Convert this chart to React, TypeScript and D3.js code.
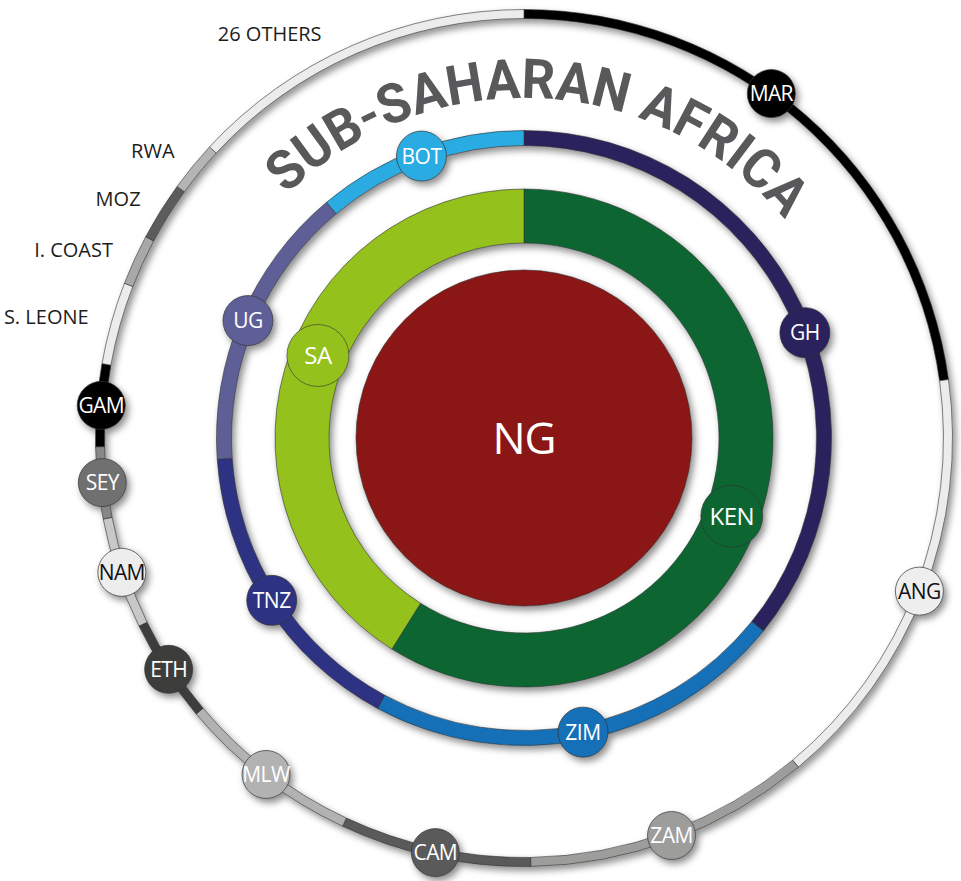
import React from "react";
import * as d3 from "d3";

// ---- data ----
const centerCountry = "NG";

const innerCountries = ["KEN", "SA"];
const innerValues = [58.9, 41.1];

const midCountries = ["GH", "ZIM", "TNZ", "UG", "BOT"];
const midValues = [35.8, 22.1, 16.0, 15.0, 11.1];

const outerCountries = ["MAR", "ANG", "ZAM", "CAM", "MLW", "ETH", "NAM", "SEY", "GAM", "S. LEONE", "I. COAST", "MOZ", "RWA", "26 OTHERS"];
const outerValues = [22.8, 16.1, 10.8, 7.2, 6.9, 3.9, 4.2, 2.7, 3.1, 3.1, 1.9, 2.2, 1.9, 13.1];
const outerHasMarker = [true, true, true, true, true, true, true, true, true, false, false, false, false, false];

const titleText = "SUB-SAHARAN AFRICA";

// ---- styles ----
const innerColors: Record<string, string> = { KEN: "#0a6632", SA: "#95c11f" };
const midColors: Record<string, string> = { GH: "#29235c", ZIM: "#1470b8", TNZ: "#2e3083", UG: "#5f5f98", BOT: "#29abe2" };
const outerColors: Record<string, string> = {
  MAR: "#000000", ANG: "#ececec", ZAM: "#9d9d9c", CAM: "#5a5a5a", MLW: "#b2b2b2", ETH: "#3c3c3b",
  NAM: "#c8c8c8", SEY: "#878787", GAM: "#000000", "S. LEONE": "#ececec", "I. COAST": "#a8a8a8",
  MOZ: "#5c5c5c", RWA: "#b5b5b5", "26 OTHERS": "#ececec",
};
const outerMarkerFill: Record<string, string> = { NAM: "#ededed", SEY: "#6f6f6f", ANG: "#eeeeee" };
const darkText: Record<string, boolean> = { ANG: true, NAM: true };
const labelShift: Record<string, number> = { MAR: -5.4, GH: 5, "26 OTHERS": -3, KEN: 4.6, SA: 5.8 };

const W = 961, H = 881, cx = 524, cy = 438;
const FONT = "'Open Sans', 'Noto Sans', sans-serif";
const deg = Math.PI / 180;

function pos(angle: number, r: number): [number, number] {
  return [cx + r * Math.sin(angle), cy - r * Math.cos(angle)];
}

export default function App() {
  const pie = d3.pie<number>().sort(null).value((d) => d);
  const innerArcs = pie(innerValues);
  const midArcs = pie(midValues);
  const outerArcs = pie(outerValues);

  const innerArc = d3.arc<d3.PieArcDatum<number>>().innerRadius(195).outerRadius(249);
  const midArc = d3.arc<d3.PieArcDatum<number>>().innerRadius(292.5).outerRadius(307.5);
  const outerArc = d3.arc<d3.PieArcDatum<number>>().innerRadius(419.5).outerRadius(428.5);

  const mid = (a: d3.PieArcDatum<number>, name: string) =>
    (a.startAngle + a.endAngle) / 2 + (labelShift[name] || 0) * deg;

  const titleR = 340;
  const titlePath = `M ${cx - titleR} ${cy} A ${titleR} ${titleR} 0 0 1 ${cx + titleR} ${cy}`;

  return (
    <svg width={W} height={H} style={{ position: "absolute", left: 0, top: 0 }} xmlns="http://www.w3.org/2000/svg">
      <defs>
        <filter id="sh" x="-20%" y="-20%" width="140%" height="140%">
          <feDropShadow dx="3" dy="4" stdDeviation="3.5" floodColor="#000" floodOpacity="0.45" />
        </filter>
        <path id="titlePath" d={titlePath} />
      </defs>
      <rect width={W} height={H} fill="#fff" />

      {/* outer ring */}
      <g filter="url(#sh)">
        <g transform={`translate(${cx},${cy})`}>
          {outerArcs.map((a, i) => (
            <path key={i} d={outerArc(a) || ""} fill={outerColors[outerCountries[i]]} stroke="#333" strokeWidth={0.6} />
          ))}
        </g>
        {outerArcs.map((a, i) => {
          const name = outerCountries[i];
          if (!outerHasMarker[i]) return null;
          const [x, y] = pos(mid(a, name), 424);
          return (
            <circle key={name} cx={x} cy={y} r={24} fill={outerMarkerFill[name] || outerColors[name]} stroke="#333" strokeWidth={0.7} />
          );
        })}
      </g>
      {outerArcs.map((a, i) => {
        const name = outerCountries[i];
        if (!outerHasMarker[i]) return null;
        const [x, y] = pos(mid(a, name), 424);
        return (
          <text key={name} x={x} y={y} dy="0.36em" textAnchor="middle" fontFamily={FONT} fontSize={21}
            letterSpacing={-0.6} fill={darkText[name] ? "#111" : "#fff"}>{name}</text>
        );
      })}
      {outerArcs.map((a, i) => {
        const name = outerCountries[i];
        if (outerHasMarker[i]) return null;
        const [x, y] = pos(mid(a, name), 452);
        return (
          <text key={name} x={x} y={y} dy="0.36em" textAnchor="end" fontFamily={FONT} fontSize={20} fill="#1d1d1b">{name}</text>
        );
      })}

      {/* title */}
      <text fontFamily="Roboto, 'DejaVu Sans', sans-serif" fontWeight="bold" fontSize={55} fill="#59595b">
        <textPath href="#titlePath" startOffset="51.6%" textAnchor="middle" textLength={560} lengthAdjust="spacingAndGlyphs">{titleText}</textPath>
      </text>

      {/* middle ring */}
      <g filter="url(#sh)">
        <g transform={`translate(${cx},${cy})`}>
          {midArcs.map((a, i) => (
            <path key={i} d={midArc(a) || ""} fill={midColors[midCountries[i]]} stroke="#333" strokeWidth={0.6} />
          ))}
        </g>
        {midArcs.map((a, i) => {
          const name = midCountries[i];
          const [x, y] = pos(mid(a, name), 300);
          return <circle key={name} cx={x} cy={y} r={25} fill={midColors[name]} stroke="#333" strokeWidth={0.7} />;
        })}
      </g>
      {midArcs.map((a, i) => {
        const name = midCountries[i];
        const [x, y] = pos(mid(a, name), 300);
        return (
          <text key={name} x={x} y={y} dy="0.36em" textAnchor="middle" fontFamily={FONT} fontSize={21} letterSpacing={-0.5} fill="#fff">{name}</text>
        );
      })}

      {/* inner ring */}
      <g filter="url(#sh)">
        <g transform={`translate(${cx},${cy})`}>
          {innerArcs.map((a, i) => (
            <path key={i} d={innerArc(a) || ""} fill={innerColors[innerCountries[i]]} stroke="#333" strokeWidth={0.6} />
          ))}
        </g>
        {innerArcs.map((a, i) => {
          const name = innerCountries[i];
          const [x, y] = pos(mid(a, name), 222);
          return <circle key={name} cx={x} cy={y} r={31} fill={innerColors[name]} stroke="#333" strokeWidth={0.6} />;
        })}
      </g>
      {innerArcs.map((a, i) => {
        const name = innerCountries[i];
        const [x, y] = pos(mid(a, name), 222);
        return (
          <text key={name} x={x} y={y} dy="0.36em" textAnchor="middle" fontFamily={FONT} fontSize={24} letterSpacing={-0.5} fill="#fff">{name}</text>
        );
      })}

      {/* center */}
      <circle cx={cx} cy={cy} r={168} fill="#8a1315" stroke="#333" strokeWidth={0.6} filter="url(#sh)" />
      <text x={cx} y={cy} dy="0.36em" textAnchor="middle" fontFamily={FONT} fontSize={44} letterSpacing={-1} fill="#fff">{centerCountry}</text>
    </svg>
  );
}
